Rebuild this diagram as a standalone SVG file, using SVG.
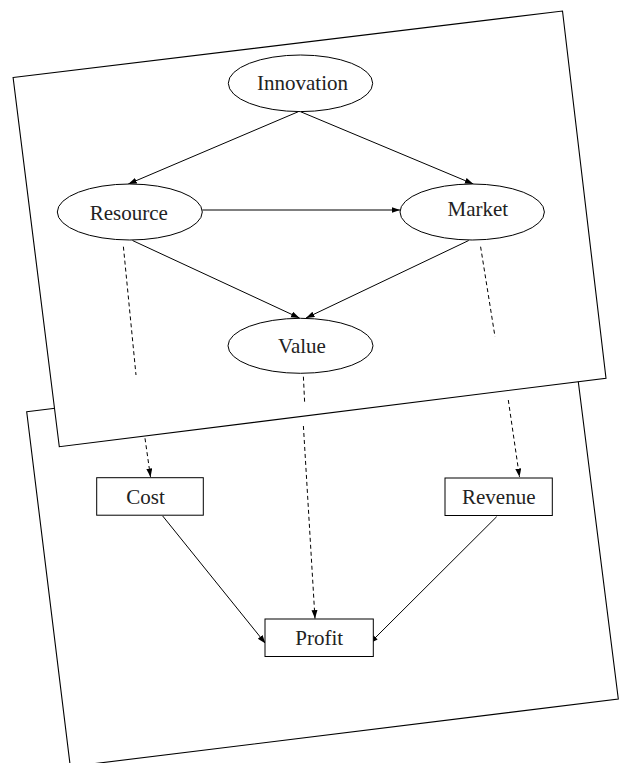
<svg xmlns="http://www.w3.org/2000/svg" width="620" height="763" viewBox="0 0 620 763">
<style>
.panel{fill:#fff;stroke:#000;stroke-width:1.1}
.node{fill:#fff;stroke:#000;stroke-width:1}
.lbl{font-family:"Liberation Serif","Times New Roman",serif;font-size:21px;fill:#222;text-anchor:middle}
.edge{fill:none;stroke:#000;stroke-width:1}
.dash{fill:none;stroke:#000;stroke-width:1;stroke-dasharray:4,3}
</style>
<defs>
<marker id="ah" markerUnits="userSpaceOnUse" markerWidth="9" markerHeight="7" refX="8.5" refY="3" orient="auto">
<path d="M0,0 L8.5,3 L0,6 z" fill="#000"/>
</marker>
</defs>
<rect width="620" height="763" fill="#fff"/>
<g id="panel-bottom">
<polygon class="panel" points="26.7,411.7 573.6,344.5 618.3,699 70.3,766.6"/>
</g>
<g id="connectors-bottom">
<line class="dash" x1="145" y1="438.3" x2="150.5" y2="477" marker-end="url(#ah)"/>
<line class="dash" x1="508.3" y1="400" x2="519.5" y2="477" marker-end="url(#ah)"/>
<line class="dash" x1="303.4" y1="426" x2="315" y2="618.6" marker-end="url(#ah)"/>
<line class="edge" x1="162.7" y1="516" x2="265.5" y2="643.5" marker-end="url(#ah)"/>
<line class="edge" x1="496.7" y1="516.7" x2="369.5" y2="643.5" marker-end="url(#ah)"/>
</g>
<g id="node-cost">
<rect class="node" x="96.7" y="477.7" width="106.6" height="37.5"/>
<text class="lbl" x="145.5" y="504.3">Cost</text>
</g>
<g id="node-revenue">
<rect class="node" x="445" y="478" width="107.3" height="37.5"/>
<text class="lbl" x="498.8" y="504.3">Revenue</text>
</g>
<g id="node-profit">
<rect class="node" x="265" y="619" width="108.3" height="37.5"/>
<text class="lbl" x="319.2" y="645">Profit</text>
</g>
<g id="panel-top">
<polygon class="panel" points="13.1,77.5 562.5,11 606,378.3 59.3,446.7"/>
</g>
<g id="connectors-top">
<line class="edge" x1="298.3" y1="111.7" x2="128.3" y2="184" marker-end="url(#ah)"/>
<line class="edge" x1="300.5" y1="111.7" x2="473.3" y2="184" marker-end="url(#ah)"/>
<line class="edge" x1="202.3" y1="210" x2="400" y2="210" marker-end="url(#ah)"/>
<line class="edge" x1="132.5" y1="240.5" x2="299.5" y2="318" marker-end="url(#ah)"/>
<line class="edge" x1="468.7" y1="240.5" x2="306" y2="318" marker-end="url(#ah)"/>
<line class="dash" x1="123.4" y1="246.7" x2="136" y2="375"/>
<line class="dash" x1="480.6" y1="246.7" x2="495" y2="336.7"/>
<line class="dash" x1="303.4" y1="376.7" x2="304.6" y2="401.7"/>
</g>
<g id="node-innovation">
<ellipse class="node" cx="300.5" cy="83.3" rx="72.2" ry="28.3"/>
<text class="lbl" x="302.5" y="90">Innovation</text>
</g>
<g id="node-resource">
<ellipse class="node" cx="129.8" cy="212" rx="72.5" ry="28"/>
<text class="lbl" x="128.8" y="220">Resource</text>
</g>
<g id="node-market">
<ellipse class="node" cx="472.2" cy="212" rx="72.2" ry="28"/>
<text class="lbl" x="477.8" y="216">Market</text>
</g>
<g id="node-value">
<ellipse class="node" cx="300.5" cy="345.8" rx="72.5" ry="27.5"/>
<text class="lbl" x="302" y="353">Value</text>
</g>
</svg>
